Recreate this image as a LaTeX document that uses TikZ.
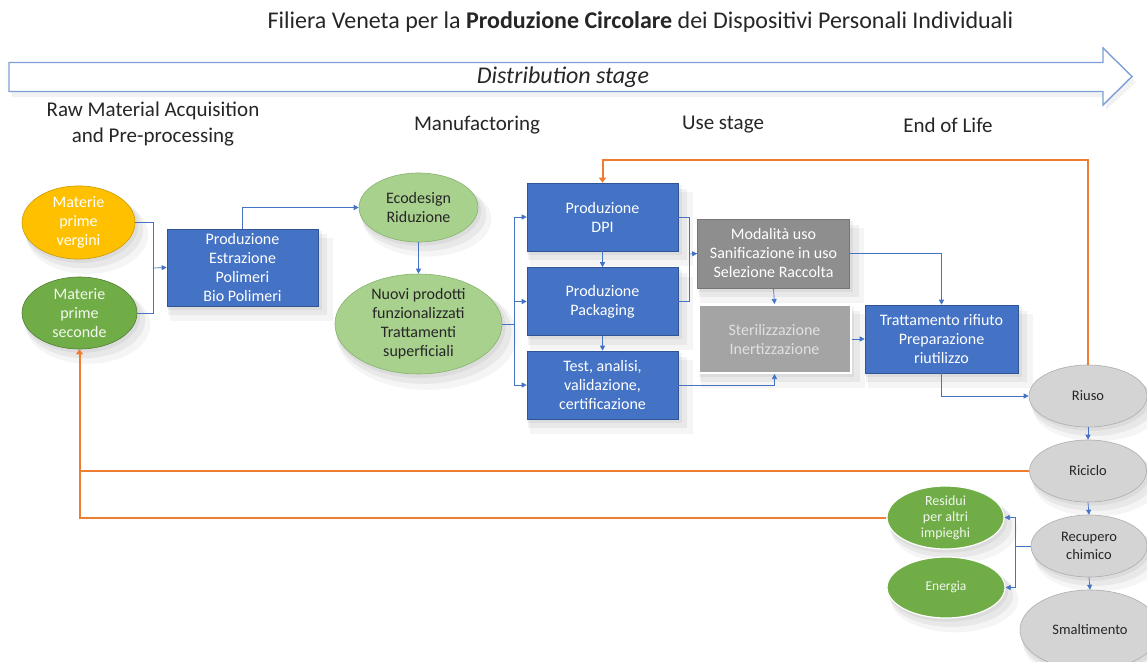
\documentclass[tikz,border=0pt]{standalone}
\usepackage{fontspec}
\setmainfont{Carlito}
\usetikzlibrary{arrows.meta,shapes.geometric,shadows}
\definecolor{boxblue}{HTML}{4472C4}
\definecolor{boxblueB}{HTML}{2F5597}
\definecolor{conblue}{HTML}{4472C4}
\definecolor{orline}{HTML}{ED7D31}
\definecolor{yel}{HTML}{FFC000}
\definecolor{yelB}{HTML}{C99A00}
\definecolor{grn}{HTML}{70AD47}
\definecolor{grnB}{HTML}{507E32}
\definecolor{lgrn}{HTML}{A9D18E}
\definecolor{lgrnB}{HTML}{86B36A}
\definecolor{gmid}{HTML}{8E8E8E}
\definecolor{gmidB}{HTML}{767676}
\definecolor{glt}{HTML}{A4A4A4}
\definecolor{ell}{HTML}{D4D4D4}
\definecolor{ellB}{HTML}{ADADAD}
\definecolor{arrB}{HTML}{7F9FD8}
\definecolor{txt}{HTML}{262626}
\tikzset{
  softsh/.style={
    general shadow={fill=black,opacity=0.05,shadow xshift=2pt,shadow yshift=-3pt,shadow scale=1.02},
    general shadow={fill=black,opacity=0.05,shadow xshift=5pt,shadow yshift=-7pt,shadow scale=1.05},
    general shadow={fill=black,opacity=0.04,shadow xshift=8pt,shadow yshift=-11pt,shadow scale=1.08}},
  nodefont/.style={font=\fontsize{16}{19}\selectfont},
  bbox/.style={rectangle,fill=boxblue,draw=boxblueB,line width=0.6pt,text=white,align=center,nodefont,minimum width=151pt,minimum height=68pt,inner sep=0pt,softsh},
  gbox/.style={rectangle,fill=gmid,draw=gmidB,line width=0.6pt,text=white,align=center,nodefont,minimum width=152pt,minimum height=68pt,inner sep=0pt,softsh},
  oval/.style={ellipse,align=center,nodefont,inner sep=0pt,softsh},
  gryoval/.style={ellipse,align=center,font=\fontsize{14.5}{18}\selectfont,inner sep=0pt,fill=ell,draw=ellB,line width=0.6pt,text=txt,minimum width=118pt,minimum height=62pt,softsh},
  grnoval/.style={ellipse,align=center,font=\fontsize{14}{16}\selectfont,inner sep=0pt,fill=grn,draw=white,line width=1.2pt,text=white!90!grn,minimum width=117pt,minimum height=63pt,softsh},
  con/.style={draw=conblue,line width=0.7pt},
  conarr/.style={con,-{Triangle[width=5pt,length=5pt]}},
  orl/.style={draw=orline,line width=2pt},
  orarr/.style={orl,-{Triangle[width=7pt,length=5pt]}},
  lbl/.style={text=txt,align=center,font=\fontsize{21}{26}\selectfont}
}
\begin{document}
\begin{tikzpicture}[x=1pt,y=-1pt]
\useasboundingbox (0,0) rectangle (1147,661);
\fill[white] (0,0) rectangle (1147,661);
\clip (0,0) rectangle (1147,661);

% title
\node[lbl,font=\fontsize{24}{28}\selectfont] (title) at (640.5,22) {Filiera Veneta per la \textbf{Produzione Circolare} dei Dispositivi Personali Individuali};

% big arrow
\fill[black,opacity=0.05] (12,68) -- (1106,68) -- (1106,55) -- (1136,82) -- (1106,110) -- (1106,97) -- (12,97) -- cycle;
\draw[draw=arrB,line width=1.4pt,fill=white] (9,62.5) -- (1103,62.5) -- (1103,48) -- (1132,76.5) -- (1103,105) -- (1103,91.5) -- (9,91.5) -- cycle;
\node[lbl,font=\fontsize{24}{28}\selectfont\itshape] (dist) at (563,77) {Distribution stage};

% stage labels
\node[lbl] (s1) at (153,124) {Raw Material Acquisition\\and Pre-processing};
\node[lbl] (s2) at (477,125) {Manufactoring};
\node[lbl] (s3) at (723,125) {Use stage};
\node[lbl] (s4) at (948,125) {End of Life};

% raw material nodes
\node[oval,fill=yel,draw=yelB,line width=0.6pt,text=white,minimum width=113pt,minimum height=69pt] (verg) at (78.5,222.5) {Materie\\prime\\vergini};
\node[oval,fill=grn,draw=grnB,line width=0.6pt,text=white!92!grn,minimum width=115pt,minimum height=72pt] (sec) at (79.5,313) {Materie\\prime\\seconde};
\node[bbox,minimum width=151pt,minimum height=77pt] (prod) at (242.5,267.5) {Produzione\\Estrazione\\Polimeri\\Bio Polimeri};

% manufacturing
\node[oval,fill=lgrn,draw=lgrnB,line width=0.6pt,text=txt,minimum width=119pt,minimum height=69pt] (eco) at (418.5,207.5) {Ecodesign\\Riduzione};
\node[oval,fill=lgrn,draw=lgrnB,line width=0.6pt,text=txt,minimum width=167pt,minimum height=97pt] (nuovi) at (418.5,324) {Nuovi prodotti\\funzionalizzati\\Trattamenti\\superficiali};
\node[bbox] (dpi) at (602.5,217) {Produzione\\DPI};
\node[bbox] (pack) at (602.5,301.5) {Produzione\\Packaging};
\node[bbox] (test) at (602.5,385) {Test, analisi,\\validazione,\\certificazione};

% use stage
\node[gbox,minimum height=69pt] (mod) at (773.5,253.5) {Modalità uso\\Sanificazione in uso\\Selezione Raccolta};
\node[gbox,fill=glt,draw=white,line width=2pt,text=white!88!black] (ster) at (774.5,339) {Sterilizzazione\\Inertizzazione};
\node[bbox,minimum width=153pt] (tratt) at (941.5,339) {Trattamento rifiuto\\Preparazione\\riutilizzo};

% end of life
\node[gryoval] (riuso) at (1088,396) {Riuso};
\node[gryoval,minimum width=117pt] (ric) at (1088,471) {Riciclo};
\node[gryoval,minimum width=116pt] (rec) at (1089,546) {Recupero\\chimico};
\node[gryoval,minimum width=140pt,minimum height=80pt] (smal) at (1090,630) {Smaltimento};
\node[grnoval] (res) at (945.5,517.5) {Residui\\per altri\\impieghi};
\node[grnoval,font=\fontsize{13.5}{16}\selectfont,minimum width=118pt,minimum height=61pt] (ene) at (946,587.5) {Energia};

% coordinates
\coordinate (f1) at (153,268);
\coordinate (f2) at (514,324);
\coordinate (f3) at (689,254);
\coordinate (f4) at (1015,546);
\coordinate (o1) at (1088,160);

% blue connectors
\draw[con] (verg.east) -| (f1);
\draw[con] (sec.east) -| (f1);
\draw[conarr] (f1) -- (prod.west);
\draw[conarr] (prod.north) |- (eco.west);
\draw[conarr] (eco.south) -- (nuovi.north);
\draw[con] (nuovi.east) -- (f2);
\draw[conarr] (f2) |- (dpi.west);
\draw[conarr] (f2) |- (pack.west);
\draw[conarr] (f2) |- (test.west);
\draw[conarr] (dpi.south) -- (pack.north);
\draw[conarr] (pack.south) -- (test.north);
\draw[con] (dpi.east) -| (f3);
\draw[con] (pack.east) -| (f3);
\draw[conarr] (f3) -- (mod.west);
\draw[conarr] (mod.south) -- (ster.north);
\draw[conarr] (test.east) -| (ster.south);
\draw[conarr] (mod.east) -| (tratt.north);
\draw[conarr] (ster.east) -- (tratt.west);
\draw[conarr] (tratt.south) |- (riuso.west);
\draw[conarr] (riuso.south) -- (ric.north);
\draw[conarr] (ric.south) -- (rec.north);
\draw[conarr] (rec.south) -- (smal.north);
\draw[con] (rec.west) -- (f4);
\draw[conarr] (f4) |- (res.east);
\draw[conarr] (f4) |- (ene.east);

% orange loops
\draw[orarr] (riuso.north) -- (o1) -| (dpi.north);
\draw[orarr] (res.west) -| (sec.south);
\draw[orl] (ric.west) -- (ric.west -| sec.south);
\end{tikzpicture}
\end{document}
